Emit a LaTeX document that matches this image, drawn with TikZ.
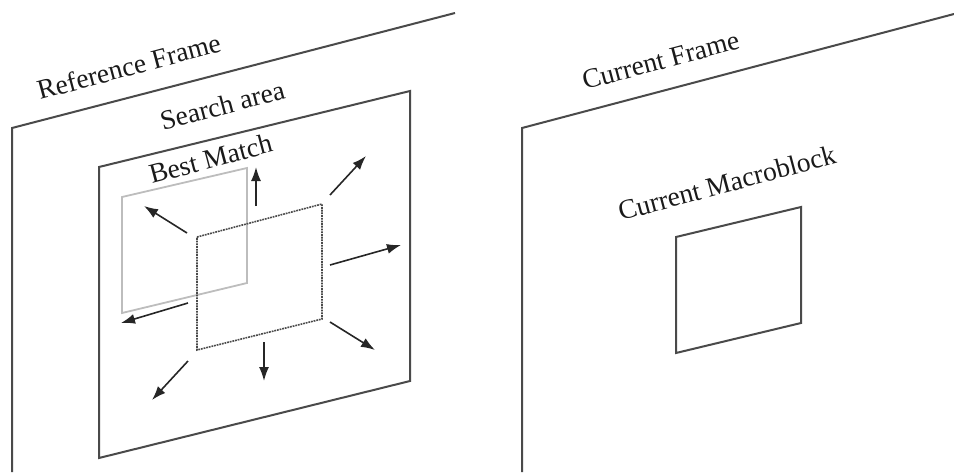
\documentclass[tikz,border=0pt]{standalone}
\usepackage{fontspec}
\setmainfont{Liberation Serif}
\usetikzlibrary{arrows.meta}
\definecolor{frameline}{HTML}{4A4A4A}
\definecolor{lightbox}{HTML}{BDBDBD}
\definecolor{arrowcol}{HTML}{262626}
\definecolor{textcol}{HTML}{1A1A1A}
\begin{document}
\begin{tikzpicture}[x=1pt,y=-1pt,
  frame/.style={draw=frameline,line width=2pt,line join=miter},
  bestbox/.style={draw=lightbox,line width=1.8pt},
  dotbox/.style={draw=frameline,line width=1.6pt,dash pattern=on 1.8pt off 0.9pt},
  motion/.style={draw=arrowcol,line width=1.6pt,-{Latex[length=14pt,width=10pt]}},
  label/.style={font=\fontsize{27.5}{30}\selectfont,text=textcol,inner sep=0pt,anchor=base west,rotate=15}]
\useasboundingbox (0,0) rectangle (954,472);
% reference frame
\draw[frame] (455,13) -- (12,128) -- (12,472);
% search area
\draw[frame] (99,167) -- (410,91) -- (410,381) -- (99,458) -- cycle;
% best match
\draw[bestbox] (122,197) -- (247,168) -- (247,283) -- (122,313) -- cycle;
% dotted current position
\draw[dotbox] (197,237) -- (322,204) -- (322,319) -- (197,350) -- cycle;
% motion arrows
\coordinate (u1) at (256,206); \coordinate (u2) at (256,167);
\coordinate (ur1) at (330,195); \coordinate (ur2) at (366,156);
\coordinate (ul1) at (187,233); \coordinate (ul2) at (144,206);
\coordinate (r1) at (330,265); \coordinate (r2) at (401,245);
\coordinate (l1) at (188,303); \coordinate (l2) at (121,323);
\coordinate (dr1) at (330,322); \coordinate (dr2) at (375,350);
\coordinate (d1) at (264,342); \coordinate (d2) at (264,381);
\coordinate (dl1) at (188,361); \coordinate (dl2) at (152,400);
\draw[motion] (u1) -- (u2);
\draw[motion] (ur1) -- (ur2);
\draw[motion] (ul1) -- (ul2);
\draw[motion] (r1) -- (r2);
\draw[motion] (l1) -- (l2);
\draw[motion] (dr1) -- (dr2);
\draw[motion] (d1) -- (d2);
\draw[motion] (dl1) -- (dl2);
% current frame
\draw[frame] (954,14) -- (522,128) -- (522,472);
% current macroblock
\draw[frame] (676,237) -- (801,207) -- (801,323) -- (676,353) -- cycle;
% labels
\node[label] (reflbl) at (40,100) {Reference Frame};
\node[label] (searchlbl) at (163,131) {Search area};
\node[label] (bestlbl) at (152,184) {Best Match};
\node[label] (curlbl) at (585,90) {Current Frame};
\node[label] (mblbl) at (621,221) {Current Macroblock};
\end{tikzpicture}
\end{document}
